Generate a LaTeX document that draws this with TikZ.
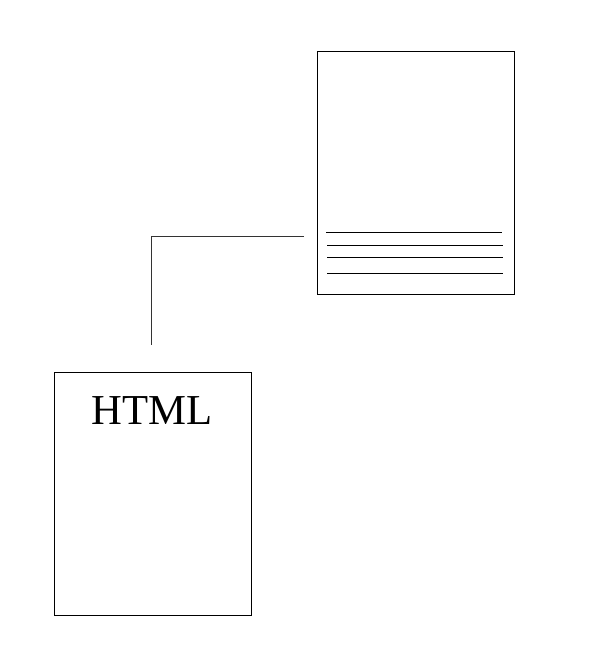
\documentclass[tikz,border=0pt]{standalone}
\usepackage{fontspec}
\setmainfont{Liberation Serif}
\begin{document}
\begin{tikzpicture}[x=0.75pt,y=-0.75pt,
  page/.style={draw=black,line width=0.75pt,fill=white},
  txtline/.style={draw=black,line width=0.75pt},
  conn/.style={draw=black!80,line width=0.75pt}]
\useasboundingbox (0,0) rectangle (610,668);
% right page
\draw[page] (317,51) rectangle (514,294);
\coordinate (l1a) at (326,232); \coordinate (l1b) at (502,232);
\coordinate (l2a) at (327,245); \coordinate (l2b) at (503,245);
\coordinate (l3a) at (327,257); \coordinate (l3b) at (503,257);
\coordinate (l4a) at (327,273); \coordinate (l4b) at (503,273);
\draw[txtline] (l1a) -- (l1b);
\draw[txtline] (l2a) -- (l2b);
\draw[txtline] (l3a) -- (l3b);
\draw[txtline] (l4a) -- (l4b);
% left page
\draw[page] (54,372) rectangle (251,615);
\node[inner sep=0pt,anchor=base,font=\fontsize{32}{38}\selectfont] (html) at (152,424) {HTML};
% connector
\coordinate (cstart) at (304,236);
\coordinate (cend) at (151,345);
\draw[conn] (cstart) -| (cend);
\end{tikzpicture}
\end{document}
